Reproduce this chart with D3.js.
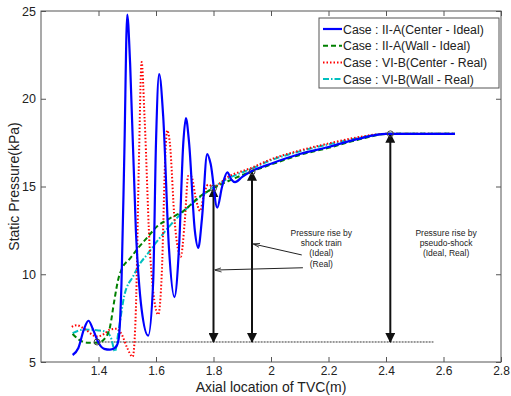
<!DOCTYPE html>
<html lang="en">
<head>
<meta charset="utf-8">
<title>Static pressure along TVC</title>
<script src="https://cdn.jsdelivr.net/npm/d3@7"></script>
<style>
    body { margin: 0; background: #fff; }
    text { font-family: "Liberation Sans", Arial, sans-serif; fill: #222; }
    .axis path, .axis line { stroke: #555; }
    .note { font-size: 8.5px; }
</style>
</head>
<body>
<div id="chart"></div>
<script>
// series: [axial location (m), static pressure (kPa)]
var centerIdeal = [[1.31,5.4],[1.33,5.8],[1.35,6.9],[1.365,7.35],[1.38,6.9],[1.40,6.1],[1.42,5.75],[1.44,5.7],[1.46,5.85],
    [1.47,6.3],[1.48,9.5],[1.49,17],[1.50,24.8],[1.51,22],[1.53,12.5],[1.55,8],[1.573,6.5],[1.59,9.5],[1.60,17.5],[1.611,21.4],
    [1.625,19],[1.645,11.5],[1.664,8.7],[1.68,11.5],[1.695,17.5],[1.704,18.9],[1.715,17.5],[1.735,12.5],[1.747,11.5],[1.76,13.2],
    [1.778,16.85],[1.79,16.3],[1.813,13.8],[1.83,15.0],[1.848,15.8],[1.862,15.4],[1.875,15.25],[1.90,15.55],[1.93,15.85],
    [2.0,16.3],[2.1,16.85],[2.2,17.25],[2.3,17.7],[2.4,18.0],[2.5,18.0],[2.64,18.0]];
var wallIdeal = [[1.31,6.6],[1.33,6.3],[1.36,6.1],[1.40,6.1],[1.42,6.3],[1.44,7.0],[1.455,8.5],[1.47,9.8],[1.481,10.3],
    [1.51,10.9],[1.533,11.4],[1.57,12.1],[1.602,12.7],[1.65,13.2],[1.695,13.6],[1.75,14.4],[1.8,14.9],[1.85,15.3],
    [1.93,15.84],[2.0,16.25],[2.1,16.8],[2.2,17.2],[2.3,17.65],[2.41,18.0],[2.5,18.0],[2.64,18.0]];
var centerReal = [[1.307,7.0],[1.324,7.1],[1.35,6.9],[1.394,6.45],[1.42,6.6],[1.44,6.85],[1.463,6.9],[1.48,6.6],[1.50,5.8],
    [1.519,5.3],[1.53,8],[1.54,16],[1.55,22.1],[1.56,19],[1.58,11],[1.608,7.7],[1.62,10],[1.633,17],[1.639,18.2],[1.648,17.5],
    [1.665,13],[1.686,11.0],[1.70,13],[1.712,15.6],[1.722,15.6],[1.74,14.2],[1.753,13.6],[1.765,14.4],[1.781,15.1],[1.80,15.0],
    [1.85,15.55],[1.93,16.05],[2.0,16.55],[2.1,17.05],[2.2,17.45],[2.3,17.8],[2.4,18.0],[2.5,18.0],[2.64,18.0]];
var wallReal = [[1.31,6.65],[1.35,6.85],[1.40,6.8],[1.43,6.7],[1.445,6.3],[1.457,5.6],[1.47,6.8],[1.49,8.8],[1.521,9.9],
    [1.544,10.6],[1.568,11.1],[1.60,11.8],[1.65,12.8],[1.70,13.65],[1.75,14.35],[1.80,14.95],[1.85,15.45],[1.93,16.0],
    [2.0,16.5],[2.1,17.0],[2.2,17.4],[2.3,17.75],[2.4,18.0],[2.5,18.0],[2.64,18.0]];

var caseNames = ["Case : II-A(Center - Ideal)", "Case : II-A(Wall - Ideal)", "Case : VI-B(Center - Real)", "Case : VI-B(Wall - Real)"];
var xTicks = [1.4, 1.6, 1.8, 2, 2.2, 2.4, 2.6, 2.8];
var yTicks = [5, 10, 15, 20, 25];

// pressure rise markers
var baseLevel = 6.14;
var baseSpan = [1.39, 2.565];
var riseX = [1.8, 1.934, 2.415];
var riseTop = [14.9, 15.84, 18.0];
var shockNote = ["Pressure rise by", "shock train", "(Ideal)", "(Real)"];
var pseudoNote = ["Pressure rise by", "pseudo-shock", "(Ideal, Real)"];

var W = 511, H = 396;
var margin = {left: 41, right: 10, top: 11, bottom: 34};
var svg = d3.select("#chart").append("svg").attr("width", W).attr("height", H);

var x = d3.scaleLinear().domain([1.2, 2.8]).range([margin.left, W - margin.right]);
var y = d3.scaleLinear().domain([5, 25]).range([H - margin.bottom, margin.top]);

var defs = svg.append("defs");
defs.append("marker").attr("id", "head").attr("viewBox", "0 0 10 10").attr("refX", 9).attr("refY", 5)
    .attr("markerWidth", 5).attr("markerHeight", 5).attr("orient", "auto-start-reverse")
    .append("path").attr("d", "M0,0L10,5L0,10z").attr("fill", "#111");
defs.append("marker").attr("id", "small").attr("viewBox", "0 0 10 10").attr("refX", 9).attr("refY", 5)
    .attr("markerWidth", 7).attr("markerHeight", 7).attr("orient", "auto")
    .append("path").attr("d", "M0,2L10,5L0,8").attr("fill", "none").attr("stroke", "#222").attr("stroke-width", 1.2);

// axes box, MATLAB style ticks inside on every side
var x0 = margin.left, x1 = W - margin.right, y0 = margin.top, y1 = H - margin.bottom;
svg.append("rect").attr("x", x0).attr("y", y0).attr("width", x1 - x0).attr("height", y1 - y0)
    .attr("fill", "none").attr("stroke", "#555");

svg.append("g").attr("class", "axis").attr("transform", "translate(0," + y1 + ")")
    .call(d3.axisBottom(x).tickValues(xTicks).tickSize(-5).tickPadding(4).tickFormat(d3.format("")))
    .call(function(g) { g.select(".domain").remove(); g.selectAll("text").attr("font-size", 12); });
svg.append("g").attr("class", "axis").attr("transform", "translate(0," + y0 + ")")
    .call(d3.axisTop(x).tickValues(xTicks).tickSize(-5).tickFormat(""))
    .call(function(g) { g.select(".domain").remove(); });
svg.append("g").attr("class", "axis").attr("transform", "translate(" + x0 + ",0)")
    .call(d3.axisLeft(y).tickValues(yTicks).tickSize(-5).tickPadding(5))
    .call(function(g) { g.select(".domain").remove(); g.selectAll("text").attr("font-size", 12.5); });
svg.append("g").attr("class", "axis").attr("transform", "translate(" + x1 + ",0)")
    .call(d3.axisRight(y).tickValues(yTicks).tickSize(-5).tickFormat(""))
    .call(function(g) { g.select(".domain").remove(); });

svg.append("text").attr("x", (x0 + x1) / 2).attr("y", 392).attr("text-anchor", "middle")
    .attr("font-size", 14).text("Axial location of TVC(m)");
svg.append("text").attr("transform", "translate(19," + ((y0 + y1) / 2) + ") rotate(-90)")
    .attr("text-anchor", "middle").attr("font-size", 14).text("Static Pressure(kPa)");

// baseline + arrows
svg.append("line").attr("x1", x(baseSpan[0])).attr("x2", x(baseSpan[1]))
    .attr("y1", y(baseLevel)).attr("y2", y(baseLevel))
    .attr("stroke", "#333").attr("stroke-width", 1).attr("stroke-dasharray", "2,1");

svg.selectAll(".rise").data(riseX).enter().append("line").attr("class", "rise")
    .attr("x1", function(d) { return x(d); }).attr("x2", function(d) { return x(d); })
    .attr("y1", function(d, i) { return y(riseTop[i]); }).attr("y2", y(baseLevel))
    .attr("stroke", "#111").attr("stroke-width", 2)
    .attr("marker-start", "url(#head)").attr("marker-end", "url(#head)");

var line = d3.line().x(function(d) { return x(d[0]); }).y(function(d) { return y(d[1]); })
    .curve(d3.curveMonotoneX);

var series = [
    {data: centerIdeal, color: "#0000ff", dash: null, width: 2.2},
    {data: wallIdeal, color: "#008000", dash: "5,3", width: 2},
    {data: centerReal, color: "#ff0000", dash: "1.5,2", width: 2},
    {data: wallReal, color: "#00bfbf", dash: "6,2,1.5,2", width: 2}
];
// draw in reverse so blue sits on top
series.slice().reverse().forEach(function(s) {
    svg.append("path").datum(s.data).attr("d", line).attr("fill", "none")
        .attr("stroke", s.color).attr("stroke-width", s.width)
        .attr("stroke-dasharray", s.dash);
});

// small circles where the rises start/end
var circlePts = [[baseSpan[0] + 0.005, baseLevel]].concat(riseX.map(function(d, i) { return [d, riseTop[i]]; }));
svg.selectAll(".mark").data(circlePts).enter().append("circle").attr("class", "mark")
    .attr("cx", function(d) { return x(d[0]); }).attr("cy", function(d) { return y(d[1]); })
    .attr("r", 3).attr("fill", "none").attr("stroke", "#444").attr("stroke-width", 1);

// notes
var noteY = [12.2, 11.61, 11.04, 10.41];
svg.append("text").attr("class", "note").attr("text-anchor", "middle")
    .selectAll("tspan").data(shockNote).enter().append("tspan")
    .attr("x", x(2.175)).attr("y", function(d, i) { return y(noteY[i]); }).text(function(d) { return d; });
svg.append("text").attr("class", "note").attr("text-anchor", "middle")
    .selectAll("tspan").data(pseudoNote).enter().append("tspan")
    .attr("x", x(2.609)).attr("y", function(d, i) { return y(noteY[i]); }).text(function(d) { return d; });

var pointers = [[[2.107, 11.1], [1.94, 11.72]], [[2.111, 10.37], [1.806, 10.24]]];
svg.selectAll(".ptr").data(pointers).enter().append("line").attr("class", "ptr")
    .attr("x1", function(d) { return x(d[0][0]); }).attr("y1", function(d) { return y(d[0][1]); })
    .attr("x2", function(d) { return x(d[1][0]); }).attr("y2", function(d) { return y(d[1][1]); })
    .attr("stroke", "#222").attr("stroke-width", 1).attr("marker-end", "url(#small)");

// legend
var lg = svg.append("g").attr("transform", "translate(319,18)");
lg.append("rect").attr("width", 180).attr("height", 70).attr("fill", "#fff").attr("stroke", "#555");
var rows = lg.selectAll(".row").data(series).enter().append("g")
    .attr("transform", function(d, i) { return "translate(0," + (11 + i * 16.7) + ")"; });
rows.append("line").attr("x1", 4).attr("x2", 23).attr("y1", 0).attr("y2", 0)
    .attr("stroke", function(d) { return d.color; }).attr("stroke-width", function(d) { return d.width; })
    .attr("stroke-dasharray", function(d) { return d.dash; });
rows.append("text").attr("x", 24).attr("y", 4.5).attr("font-size", 12.3)
    .text(function(d, i) { return caseNames[i]; });
</script>
</body>
</html>
